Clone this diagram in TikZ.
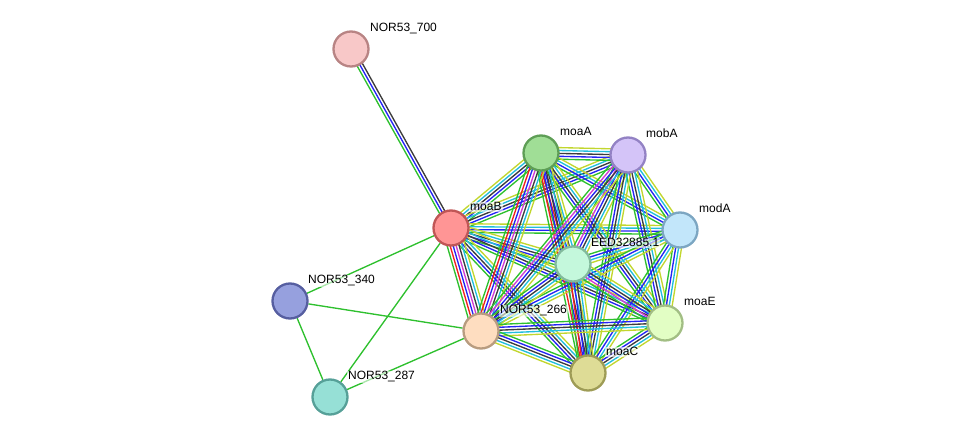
\documentclass[tikz,border=0pt]{standalone}
\usepackage{fontspec}
\setmainfont{Liberation Sans}
\usepackage{xcolor}
\usetikzlibrary{calc}
\pgfdeclarelayer{edges}
\pgfsetlayers{edges,main}

\definecolor{tm}{HTML}{C2D62E}
\definecolor{co}{HTML}{3C3C3C}
\definecolor{db}{HTML}{22BEDC}
\definecolor{ex}{HTML}{D23CD2}
\definecolor{nb}{HTML}{2EC02E}
\definecolor{fu}{HTML}{F02020}
\definecolor{cc}{HTML}{2424F4}

% one line per evidence colour, side by side
\newcommand\linkgenes[3]{%
  \gdef\nlines{0}%
  \foreach \c in {#3}{\xdef\nlines{\the\numexpr\nlines+1\relax}}%
  \foreach \c [count=\i] in {#3}{%
    \pgfmathsetmacro\off{(\i-(\nlines+1)/2)*2.9}%
    \draw[evline,\c] ($(#1)!\off pt!90:(#2)$) -- ($(#2)!\off pt!-90:(#1)$);
  }%
}

\begin{document}
\begin{tikzpicture}[x=1pt,y=-1pt,
  evline/.style={line width=1.35pt},
  gene/.style={circle,minimum size=35pt,inner sep=0pt,line width=2.3pt},
  glabel/.style={anchor=base west,font=\fontsize{12}{14}\selectfont,inner sep=1pt,
    fill=white,fill opacity=0.6,text opacity=1}]
\useasboundingbox (0,0) rectangle (975,443);

\node[gene,draw={rgb,255:red,184;green,132;blue,132},fill={rgb,255:red,248;green,200;blue,200}] (n700) at (351,49) {};
\node[gene,draw={rgb,255:red,192;green,86;blue,86},fill={rgb,255:red,255;green,149;blue,149}] (moaB) at (451,228) {};
\node[gene,draw={rgb,255:red,94;green,158;blue,86},fill={rgb,255:red,160;green,222;blue,150}] (moaA) at (541,153) {};
\node[gene,draw={rgb,255:red,147;green,130;blue,196},fill={rgb,255:red,212;green,196;blue,248}] (mobA) at (628,155) {};
\node[gene,draw={rgb,255:red,124;green,166;blue,194},fill={rgb,255:red,194;green,230;blue,250}] (modA) at (680,230) {};
\node[gene,draw={rgb,255:red,130;green,186;blue,156},fill={rgb,255:red,196;green,248;blue,220}] (eed) at (573,264) {};
\node[gene,draw={rgb,255:red,162;green,190;blue,132},fill={rgb,255:red,226;green,254;blue,196}] (moaE) at (665,323) {};
\node[gene,draw={rgb,255:red,158;green,156;blue,86},fill={rgb,255:red,222;green,220;blue,150}] (moaC) at (588,373) {};
\node[gene,draw={rgb,255:red,184;green,156;blue,128},fill={rgb,255:red,254;green,221;blue,192}] (n266) at (481,331) {};
\node[gene,draw={rgb,255:red,86;green,94;blue,160},fill={rgb,255:red,150;green,160;blue,222}] (n340) at (290,301) {};
\node[gene,draw={rgb,255:red,86;green,160;blue,152},fill={rgb,255:red,150;green,224;blue,214}] (n287) at (330,397) {};

\begin{pgfonlayer}{edges}
\linkgenes{n700}{moaB}{nb,cc,co}
\linkgenes{moaB}{moaA}{nb,cc,co,db,tm}
\linkgenes{moaB}{mobA}{nb,cc,co,db,tm}
\linkgenes{moaB}{modA}{nb,cc,db,tm}
\linkgenes{moaB}{eed}{nb,cc,co,db,tm}
\linkgenes{moaB}{moaE}{nb,cc,co,db,tm}
\linkgenes{moaB}{moaC}{nb,cc,co,db,tm}
\linkgenes{moaB}{n266}{nb,fu,cc,ex,co,db,tm}
\linkgenes{moaA}{mobA}{nb,cc,co,db,tm}
\linkgenes{moaA}{modA}{nb,cc,db,tm}
\linkgenes{moaA}{eed}{nb,fu,cc,co,db,tm}
\linkgenes{moaA}{moaE}{nb,cc,co,db,tm}
\linkgenes{moaA}{moaC}{nb,fu,cc,co,db,tm}
\linkgenes{moaA}{n266}{nb,fu,cc,ex,co,db,tm}
\linkgenes{mobA}{modA}{nb,cc,db,tm}
\linkgenes{mobA}{eed}{nb,ex,cc,co,db,tm}
\linkgenes{mobA}{moaE}{nb,cc,co,db,tm}
\linkgenes{mobA}{moaC}{nb,cc,co,db,tm}
\linkgenes{mobA}{n266}{nb,ex,cc,co,db,tm}
\linkgenes{modA}{eed}{nb,cc,db,tm}
\linkgenes{modA}{moaE}{nb,cc,db,tm}
\linkgenes{modA}{moaC}{nb,cc,db,tm}
\linkgenes{modA}{n266}{nb,cc,db,tm}
\linkgenes{eed}{moaE}{nb,ex,cc,co,db,tm}
\linkgenes{eed}{moaC}{nb,fu,cc,co,db,tm}
\linkgenes{eed}{n266}{nb,cc,co,db,tm}
\linkgenes{moaE}{moaC}{nb,cc,co,db,tm}
\linkgenes{moaE}{n266}{nb,cc,co,db,tm}
\linkgenes{moaC}{n266}{nb,cc,co,db,tm}
\draw[evline,nb] (moaB) -- (n340);
\draw[evline,nb] (moaB) -- (n287);
\draw[evline,nb] (n340) -- (n266);
\draw[evline,nb] (n340) -- (n287);
\draw[evline,nb] (n287) -- (n266);
\end{pgfonlayer}

\node[glabel] (ln700) at ($(n700)+(18,-17)$) {NOR53\_700};
\node[glabel] (lmoaB) at ($(moaB)+(18,-17)$) {moaB};
\node[glabel] (lmoaA) at ($(moaA)+(18,-17)$) {moaA};
\node[glabel] (lmobA) at ($(mobA)+(17,-17)$) {mobA};
\node[glabel] (lmodA) at ($(modA)+(18,-17)$) {modA};
\node[glabel] (leed) at ($(eed)+(17,-17)$) {EED32885.1};
\node[glabel] (lmoaE) at ($(moaE)+(18,-17)$) {moaE};
\node[glabel] (lmoaC) at ($(moaC)+(17,-17)$) {moaC};
\node[glabel] (ln266) at ($(n266)+(18,-17)$) {NOR53\_266};
\node[glabel] (ln340) at ($(n340)+(17,-17)$) {NOR53\_340};
\node[glabel] (ln287) at ($(n287)+(17,-17)$) {NOR53\_287};
\end{tikzpicture}
\end{document}
